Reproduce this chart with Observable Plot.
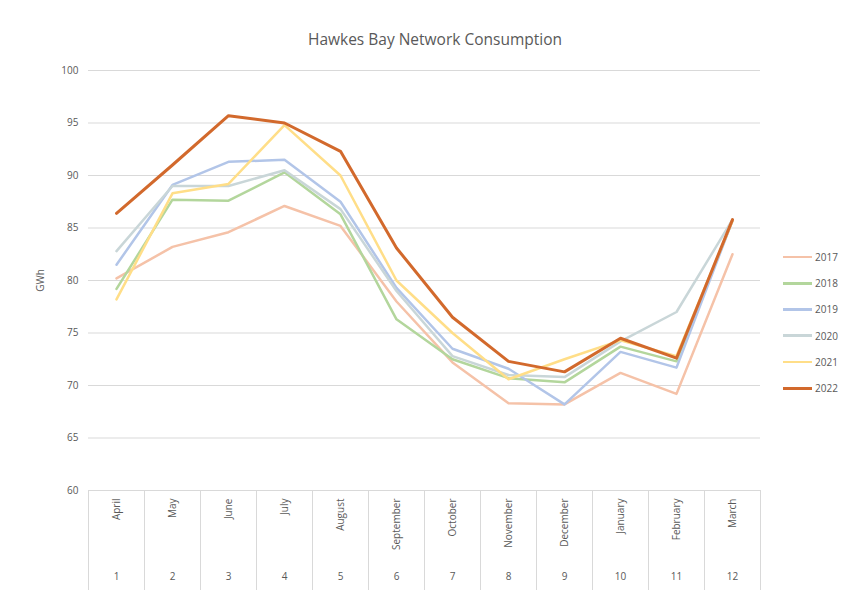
<!DOCTYPE html>
<html><head><meta charset="utf-8">
<script src="https://cdn.jsdelivr.net/npm/d3@7"></script>
<script src="https://cdn.jsdelivr.net/npm/@observablehq/plot@0.6"></script>
<style>
body{margin:0;background:#fff;font-family:"Open Sans",sans-serif;}
#wrap{position:relative;width:853px;height:590px;overflow:hidden;}
#title{position:absolute;left:0;width:870px;top:28px;text-align:center;font-size:15.5px;color:#595959;}
#legend{position:absolute;left:783px;top:244px;font-size:10px;color:#595959;}
.li{display:flex;align-items:center;height:26.2px;}
.sw{width:29px;margin-right:3px;}
</style></head><body><div id="wrap"><div id="title"></div><div id="legend"></div></div>
<script>
const title = "Hawkes Bay Network Consumption";
const yLabel = "GWh";
const months = ["April","May","June","July","August","September","October","November","December","January","February","March"];
const monthNums = [1,2,3,4,5,6,7,8,9,10,11,12];
const years = ["2017","2018","2019","2020","2021","2022"];
const v2017 = [80.2, 83.2, 84.6, 87.1, 85.2, 78.0, 72.2, 68.3, 68.2, 71.2, 69.2, 82.5];
const v2018 = [79.2, 87.7, 87.6, 90.3, 86.3, 76.3, 72.5, 70.7, 70.3, 73.7, 72.3, 85.7];
const v2019 = [81.5, 89.1, 91.3, 91.5, 87.5, 79.3, 73.5, 71.6, 68.2, 73.2, 71.7, 85.7];
const v2020 = [82.8, 89.0, 89.0, 90.5, 86.8, 79.0, 72.8, 71.0, 70.8, 74.2, 77.0, 85.8];
const v2021 = [78.2, 88.3, 89.2, 94.8, 90.0, 80.0, 75.0, 70.6, 72.5, 74.3, 72.8, 85.7];
const v2022 = [86.4, 91.0, 95.7, 95.0, 92.3, 83.1, 76.5, 72.3, 71.3, 74.5, 72.6, 85.8];
const series = [v2017, v2018, v2019, v2020, v2021, v2022];
const colors = ["#F5C2A8", "#B3D69C", "#B2C5E8", "#C9D6D8", "#FFDE88", "#D2692C"];

const rows = [];
years.forEach((yr, i) => series[i].forEach((v, j) => rows.push({year: yr, m: monthNums[j], v})));

const font = "'Open Sans', sans-serif";
const chart = Plot.plot({
  width: 853, height: 590,
  marginLeft: 88, marginRight: 93, marginTop: 70, marginBottom: 100,
  x: {domain: [0.5, 12.5]},
  y: {domain: [60, 100]},
  color: {domain: years, range: colors},
  style: {fontFamily: font, fontSize: "10px", color: "#595959", background: "white"},
  marks: [
    Plot.gridY(d3.range(60, 101, 5), {stroke: "#D9D9D9", strokeOpacity: 1, strokeWidth: 1}),
    Plot.axisY(d3.range(60, 101, 5), {tickSize: 0, tickPadding: 10, label: yLabel, labelAnchor: "center", labelArrow: "none", labelOffset: 52}),
    Plot.axisX(d3.range(0.5, 13, 1), {tickSize: 100, tickFormat: () => "", stroke: "#D9D9D9", strokeOpacity: 1, label: null}),
    Plot.axisX(monthNums, {tickSize: 0, tickFormat: i => months[i - 1], tickRotate: -90, tickPadding: 8, label: null}),
    Plot.axisX(monthNums, {tickSize: 0, tickFormat: i => String(i), tickPadding: 82, label: null}),
    Plot.line(rows.filter(d => d.year !== "2022"), {x: "m", y: "v", z: "year", stroke: "year", strokeWidth: 2.5}),
    Plot.line(rows.filter(d => d.year === "2022"), {x: "m", y: "v", z: "year", stroke: "year", strokeWidth: 3})
  ]
});
const wrap = document.getElementById("wrap");
wrap.insertBefore(chart, wrap.firstChild);
document.getElementById("title").textContent = title;
const leg = document.getElementById("legend");
years.forEach((yr, i) => {
  const d = document.createElement("div");
  d.className = "li";
  const s = document.createElement("div");
  s.className = "sw";
  s.style.height = (yr === "2022" ? 3 : 2.5) + "px";
  s.style.background = colors[i];
  const t = document.createElement("span");
  t.textContent = yr;
  d.appendChild(s); d.appendChild(t);
  leg.appendChild(d);
});
</script></body></html>
